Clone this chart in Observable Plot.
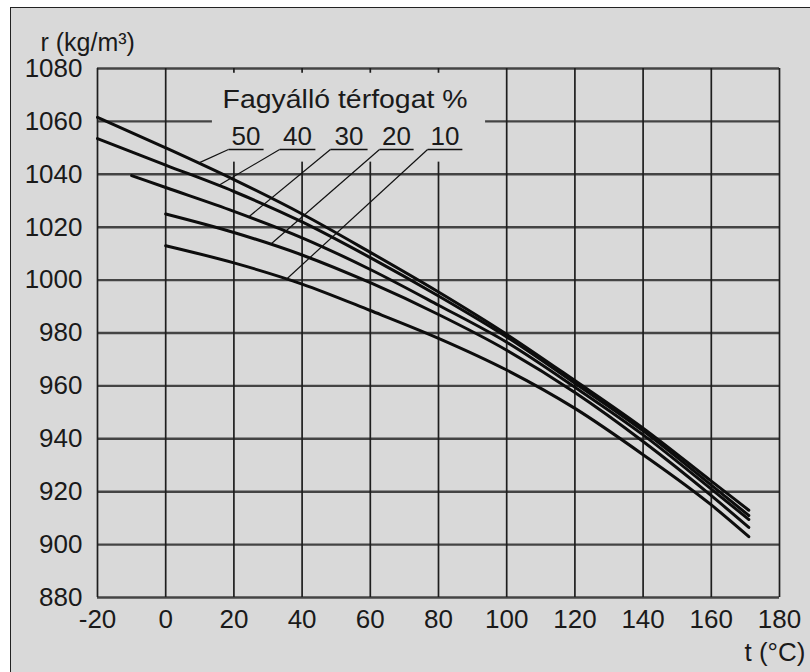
<!DOCTYPE html>
<html><head><meta charset="utf-8">
<script src="https://cdn.jsdelivr.net/npm/d3@7"></script>
<script src="https://cdn.jsdelivr.net/npm/@observablehq/plot@0.6"></script>
<style>
html,body{margin:0;padding:0;background:#fff;overflow:hidden;width:810px;height:672px;}
#frame{position:absolute;left:10px;top:7px;width:830px;height:700px;background:#d9d9d9;border:1.5px solid #222;box-sizing:border-box;}
#chart{position:absolute;left:0;top:0;}
</style></head><body>
<div id="frame"></div><div id="chart"></div>
<script>
// Tick values
const xTicks = [-20, 0, 20, 40, 60, 80, 100, 120, 140, 160, 180];
const yTicks = [880, 900, 920, 940, 960, 980, 1000, 1020, 1040, 1060, 1080];

// Series (antifreeze volume %): temperature (°C) and density (kg/m³)
const pctLabels = ["50", "40", "30", "20", "10"];
const t50 = [-20, 0, 20, 40, 60, 80, 100, 120, 140, 160, 171];
const rho50 = [1061.5, 1050, 1038, 1025, 1010.5, 995.5, 979.5, 962, 944, 924, 913];
const t40 = [-20, 0, 20, 40, 60, 80, 100, 120, 140, 160, 171];
const rho40 = [1053.5, 1043.5, 1033.5, 1022, 1008.5, 994, 978.5, 961, 943, 922.5, 911];
const t30 = [-10, 0, 20, 40, 60, 80, 100, 120, 140, 160, 171];
const rho30 = [1039.5, 1035, 1026, 1016, 1004, 990.5, 976.5, 959.5, 941.5, 921, 909.5];
const t20 = [0, 20, 40, 60, 80, 100, 120, 140, 160, 171];
const rho20 = [1025, 1018, 1009.5, 999, 987, 973.5, 957.5, 939, 918.5, 906.5];
const t10 = [0, 20, 40, 60, 80, 100, 120, 140, 160, 171];
const rho10 = [1013, 1006.5, 998.5, 988.5, 978, 966, 951.5, 934, 915, 903];

// Callout anchors (data units): underline start/end temperatures and leader end temperatures
const underlineStartT = [18.4, 33.4, 48.3, 62.7, 76.8];
const underlineEndT = [28.7, 43.9, 59.2, 72.7, 87.0];
const leaderEndT = [9.6, 15.5, 24.3, 30.7, 35.4];
const underlineRho = 1049.4;

const titleText = "Fagyálló térfogat %";
const yLabel = "r (kg/m³)";
const xLabel = "t (°C)";

const seriesT = [t50, t40, t30, t20, t10];
const seriesRho = [rho50, rho40, rho30, rho20, rho10];

const rows = pctLabels.flatMap((p, i) => seriesT[i].map((t, j) => ({pct: p, t, rho: seriesRho[i][j]})));

function rhoAt(i, t) {
  const T = seriesT[i], R = seriesRho[i];
  for (let j = 0; j < T.length - 1; j++) {
    if (t >= T[j] && t <= T[j + 1]) return R[j] + (R[j + 1] - R[j]) * (t - T[j]) / (T[j + 1] - T[j]);
  }
  return R[0];
}

const callouts = pctLabels.map((p, i) => ({
  pct: p,
  u0: underlineStartT[i],
  u1: underlineEndT[i],
  uc: (underlineStartT[i] + underlineEndT[i]) / 2,
  le: leaderEndT[i],
  leRho: rhoAt(i, leaderEndT[i])
}));

const font = "'Liberation Sans', Arial, Helvetica, sans-serif";

const plot = Plot.plot({
  width: 810,
  height: 672,
  marginLeft: 97,
  marginRight: 31,
  marginTop: 68,
  marginBottom: 75,
  style: {background: "transparent", fontFamily: font, fontSize: "26px", color: "#1a1a1a"},
  x: {domain: [-20, 180], ticks: xTicks, tickSize: 0, tickPadding: 12, tickFormat: d => String(d), label: null},
  y: {domain: [880, 1080], ticks: yTicks, tickSize: 0, tickPadding: 15, tickFormat: d => String(d), label: null},
  marks: [
    Plot.ruleY(yTicks, {stroke: "#444", strokeWidth: 2.4}),
    Plot.ruleX(xTicks, {stroke: "#1e1e1e", strokeWidth: 1.7}),
    Plot.rect([0], {x1: 13.7, x2: 93.8, y1: 1044.6, y2: 1078.2, fill: "#d9d9d9"}),
    Plot.line(rows, {x: "t", y: "rho", z: "pct", stroke: "#0d0d0d", strokeWidth: 3, curve: "monotone-x"}),
    Plot.link(callouts, {x1: "u0", y1: underlineRho, x2: "le", y2: "leRho", stroke: "#111", strokeWidth: 1.2}),
    Plot.link(callouts, {x1: "u0", y1: underlineRho, x2: "u1", y2: underlineRho, stroke: "#111", strokeWidth: 1.6}),
    Plot.text(callouts, {x: "uc", y: underlineRho, text: "pct", dy: -12.5, fontSize: 26, fill: "#1a1a1a"}),
    Plot.text([titleText], {x: 52.6, y: 1068.1, text: d => d, fontSize: 26, fill: "#1a1a1a"}),
    Plot.text([yLabel], {frameAnchor: "top-left", lineAnchor: "middle", text: d => d, textAnchor: "start", dx: -57, dy: -26, fontSize: 25, fill: "#1a1a1a"}),
    Plot.text([xLabel], {frameAnchor: "bottom-right", lineAnchor: "middle", text: d => d, textAnchor: "start", dx: -35, dy: 55.5, fontSize: 26, fill: "#1a1a1a"})
  ]
});

document.getElementById("chart").appendChild(plot);
d3.select(plot).selectAll("text").each(function () {
  if (this.textContent === titleText) {
    d3.select(this).attr("textLength", 245).attr("lengthAdjust", "spacingAndGlyphs");
  }
});
</script>
</body></html>
